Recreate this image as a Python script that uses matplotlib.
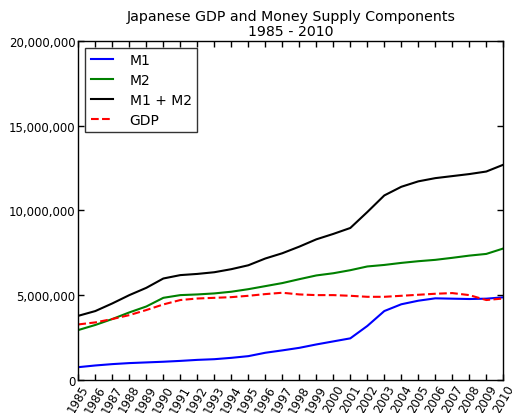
import numpy as np
import matplotlib
matplotlib.use('Agg')
import matplotlib.pyplot as plt
from matplotlib.ticker import FuncFormatter

# years and series (values in the same units as the chart)
years = list(range(1985, 2011))

m1 = [0.75, 0.85, 0.93, 0.99, 1.03, 1.07, 1.12, 1.18, 1.22, 1.30,
      1.40, 1.60, 1.74, 1.89, 2.09, 2.27, 2.45, 3.18, 4.06, 4.46,
      4.67, 4.81, 4.79, 4.77, 4.79, 4.87]
m2 = [2.94, 3.24, 3.59, 3.98, 4.33, 4.84, 5.00, 5.04, 5.10, 5.20,
      5.35, 5.53, 5.71, 5.94, 6.16, 6.29, 6.47, 6.69, 6.78, 6.90,
      7.00, 7.08, 7.20, 7.33, 7.43, 7.75]
m1m2 = [3.78, 4.06, 4.51, 5.00, 5.43, 5.98, 6.18, 6.25, 6.35, 6.53,
        6.76, 7.16, 7.47, 7.86, 8.29, 8.61, 8.96, 9.90, 10.88, 11.39,
        11.71, 11.90, 12.02, 12.14, 12.29, 12.69]
gdp = [3.27, 3.39, 3.59, 3.82, 4.12, 4.45, 4.71, 4.80, 4.84, 4.88,
       4.96, 5.06, 5.14, 5.04, 5.00, 5.00, 4.96, 4.90, 4.90, 4.96,
       5.02, 5.08, 5.12, 5.00, 4.71, 4.80]

# millions -> units
m1 = np.array(m1) * 1e6
m2 = np.array(m2) * 1e6
m1m2 = np.array(m1m2) * 1e6
gdp = np.array(gdp) * 1e6

fig = plt.figure(figsize=(5.12, 4.14), dpi=100)
ax = fig.add_axes([0.153, 0.080, 0.830, 0.819])

ax.plot(years, m1, 'b', lw=1.5, label='M1')
ax.plot(years, m2, 'g', lw=1.5, label='M2')
ax.plot(years, m1m2, 'k', lw=1.5, label='M1 + M2')
ax.plot(years, gdp, 'r--', lw=1.5, label='GDP')

ax.set_xlim(1985, 2010)
ax.set_ylim(0, 20000000)
ax.set_xticks(years)
ax.set_xticklabels([str(y) for y in years], rotation=60, fontsize=8.5)
ax.set_yticks([0, 5000000, 10000000, 15000000, 20000000])
ax.yaxis.set_major_formatter(FuncFormatter(lambda v, p: '{:,}'.format(int(v))))
ax.tick_params(direction='in', top=True, right=True, length=4, width=1,
               labelsize=8.5, pad=2)
for s in ax.spines.values():
    s.set_linewidth(1)

ax.set_title('Japanese GDP and Money Supply Components\n1985 - 2010',
             fontsize=10.2, linespacing=1.1, pad=4)

leg = ax.legend(loc='upper left', fontsize=10, fancybox=False,
                handlelength=1.6, handletextpad=1.2, labelspacing=0.42,
                borderaxespad=0.5)
leg.get_frame().set_edgecolor('black')
leg.get_frame().set_linewidth(1)

fig.savefig('out.png', dpi=100)
